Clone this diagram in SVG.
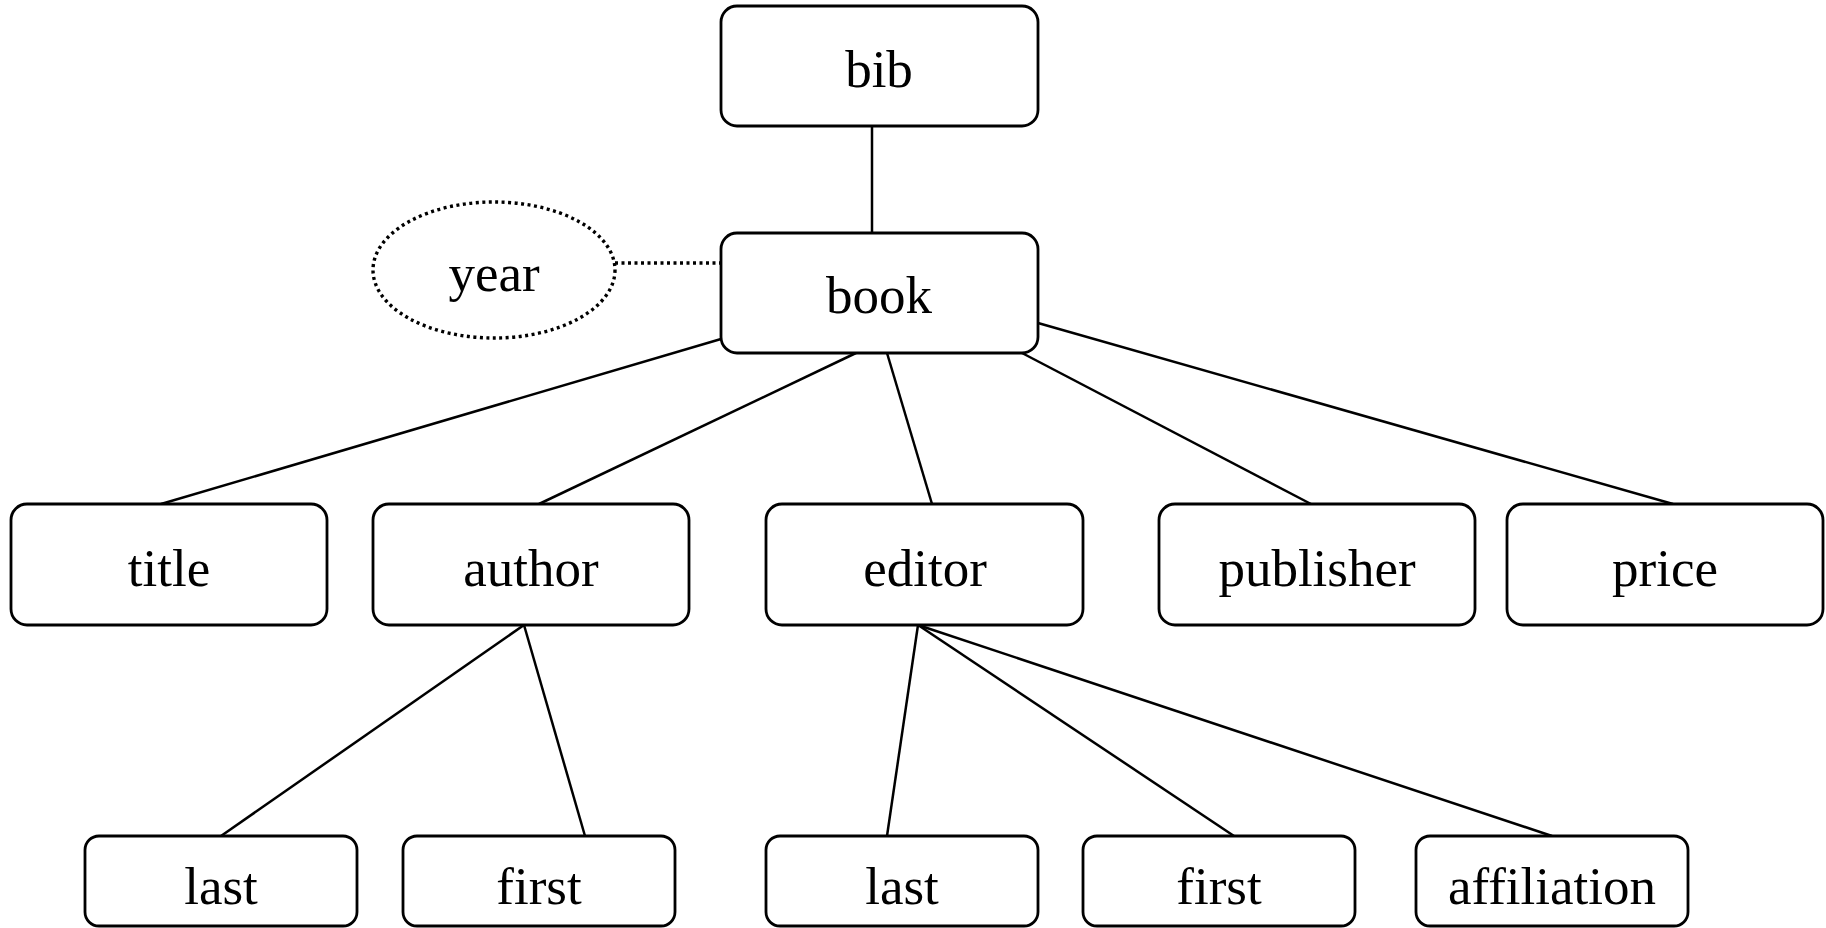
<svg xmlns="http://www.w3.org/2000/svg" width="1826" height="928" viewBox="0 0 1826 928">
<style>
.box{fill:#fff;stroke:#000;stroke-width:2.8}
.lbl{font-family:"Liberation Serif","Times New Roman",serif;font-size:53px;text-anchor:middle;fill:#000}
.edge{stroke:#000;stroke-width:2.5;fill:none}
.dot{stroke:#000;stroke-width:3.4;fill:none;stroke-dasharray:3 3.5}
</style>
<rect width="1826" height="928" fill="#fff"/>
<g id="connectors">
<line class="edge" x1="872" y1="126" x2="872" y2="233"/>
<line class="dot" x1="615" y1="263" x2="721" y2="263"/>
<line class="edge" x1="721" y1="339" x2="161" y2="504"/>
<line class="edge" x1="856" y1="353" x2="539" y2="504"/>
<line class="edge" x1="887" y1="353" x2="932" y2="504"/>
<line class="edge" x1="1022" y1="353" x2="1311" y2="504"/>
<line class="edge" x1="1038" y1="323" x2="1673" y2="504"/>
<line class="edge" x1="524" y1="625" x2="221" y2="836"/>
<line class="edge" x1="524" y1="625" x2="585" y2="836"/>
<line class="edge" x1="918" y1="625" x2="887" y2="836"/>
<line class="edge" x1="918" y1="625" x2="1234" y2="836"/>
<line class="edge" x1="918" y1="625" x2="1552" y2="836"/>
</g>
<g id="bib"><rect class="box" x="721" y="6" width="317" height="120" rx="16"/><text class="lbl" x="879" y="87">bib</text></g>
<g id="year"><ellipse class="dot" cx="494" cy="270" rx="121" ry="68"/><text class="lbl" x="494" y="291">year</text></g>
<g id="book"><rect class="box" x="721" y="233" width="317" height="120" rx="16"/><text class="lbl" x="879" y="313">book</text></g>
<g id="title"><rect class="box" x="11" y="504" width="316" height="121" rx="16"/><text class="lbl" x="169" y="586">title</text></g>
<g id="author"><rect class="box" x="373" y="504" width="316" height="121" rx="16"/><text class="lbl" x="531" y="586">author</text></g>
<g id="editor"><rect class="box" x="766" y="504" width="317" height="121" rx="16"/><text class="lbl" x="925" y="586">editor</text></g>
<g id="publisher"><rect class="box" x="1159" y="504" width="316" height="121" rx="16"/><text class="lbl" x="1317" y="586">publisher</text></g>
<g id="price"><rect class="box" x="1507" y="504" width="316" height="121" rx="16"/><text class="lbl" x="1665" y="586">price</text></g>
<g id="author-last"><rect class="box" x="85" y="836" width="272" height="90" rx="14"/><text class="lbl" x="221" y="904">last</text></g>
<g id="author-first"><rect class="box" x="403" y="836" width="272" height="90" rx="14"/><text class="lbl" x="539" y="904">first</text></g>
<g id="editor-last"><rect class="box" x="766" y="836" width="272" height="90" rx="14"/><text class="lbl" x="902" y="904">last</text></g>
<g id="editor-first"><rect class="box" x="1083" y="836" width="272" height="90" rx="14"/><text class="lbl" x="1219" y="904">first</text></g>
<g id="affiliation"><rect class="box" x="1416" y="836" width="272" height="90" rx="14"/><text class="lbl" x="1552" y="904">affiliation</text></g>
</svg>
